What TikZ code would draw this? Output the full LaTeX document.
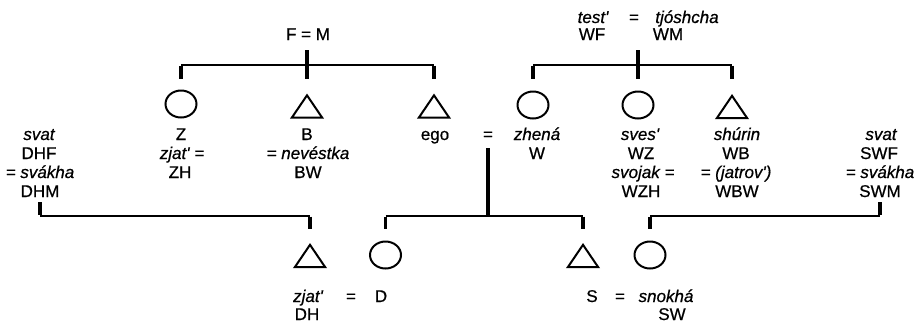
\documentclass[tikz,border=0pt]{standalone}
\usepackage{fontspec}
\setmainfont{Liberation Sans}[Ligatures=TeXOff, FakeBold=0.6]
\usetikzlibrary{shapes.geometric}
\begin{document}
\begin{tikzpicture}[x=1pt,y=-1pt,
  bus/.style={line width=1.4pt},
  tickln/.style={line width=3.2pt},
  fem/.style={ellipse, draw, line width=2pt, minimum width=31pt, minimum height=27pt, inner sep=0pt},
  mal/.style={rectangle, minimum width=30pt, minimum height=22pt, inner sep=0pt},
  triline/.style={line width=2pt},
  lab/.style={anchor=base, inner sep=0pt, font=\fontsize{17pt}{20pt}\selectfont},
  itl/.style={lab, font=\fontsize{17pt}{20pt}\selectfont\itshape}]
\useasboundingbox (0,0) rectangle (920,322);
\fill[white] (0,0) rectangle (920,322);

% people
\node[fem] (Z) at (181,104) {};
\node[mal] (B) at (307,106.5) {};
\node[mal] (ego) at (434,106.5) {};
\node[fem] (W) at (533,105) {};
\node[fem] (WZ) at (638,105) {};
\node[mal] (WB) at (732,107) {};
\node[mal] (DH) at (310,256) {};
\node[fem] (D) at (385.5,255) {};
\node[mal] (S) at (583,256) {};
\node[fem] (SW) at (650,255) {};
\foreach \t in {B,ego,WB,DH,S}
  \draw[triline] (\t.south west) -- (\t.north) -- (\t.south east) -- cycle;

% reference coordinates for connectors
\coordinate (FMtop) at (307,50);
\coordinate (busA) at (307,65);
\coordinate (WFMtop) at (638,50);
\coordinate (busB) at (638,65);
\coordinate (rowA) at (0,79);
\coordinate (egotop) at (488,148);
\coordinate (busC) at (488,216);
\coordinate (rowB) at (0,229);
\coordinate (DHMend) at (40,202);
\coordinate (SWMend) at (880,202);

% F = M family
\draw[bus] (Z |- busA) -- (ego |- busA);
\draw[tickln] (FMtop) -- (B |- rowA);
\draw[tickln] ([yshift=-0.7pt]Z |- busA) -- (Z |- rowA);
\draw[tickln] ([yshift=-0.7pt]ego |- busA) -- (ego |- rowA);

% WF = WM family
\draw[bus] (W |- busB) -- (WB |- busB);
\draw[tickln] (WFMtop) -- (WZ |- rowA);
\draw[tickln] ([yshift=-0.7pt]W |- busB) -- (W |- rowA);
\draw[tickln] ([yshift=-0.7pt]WB |- busB) -- (WB |- rowA);

% ego = W children
\draw[tickln] (egotop) -- (busC);
\draw[bus] (D |- busC) -- (S |- busC);
\draw[tickln] ([yshift=-0.7pt]D |- busC) -- (D |- rowB);
\draw[tickln] ([yshift=-0.7pt]S |- busC) -- (S |- rowB);

% DHF = DHM -> DH
\draw[tickln] (DHMend) -- ([yshift=0.7pt]DHMend |- busC);
\draw[bus] (DHMend |- busC) -- (DH |- busC);
\draw[tickln] ([yshift=-0.7pt]DH |- busC) -- (DH |- rowB);

% SWF = SWM -> SW
\draw[tickln] (SWMend) -- ([yshift=0.7pt]SWMend |- busC);
\draw[bus] (SW |- busC) -- (SWMend |- busC);
\draw[tickln] ([yshift=-0.7pt]SW |- busC) -- (SW |- rowB);

% top labels
\node[lab] (tFM) at (308,40) {F = M};
\node[itl] (tTest) at (593,23) {test'};
\node[lab] (tEq1) at (634,23) {=};
\node[itl] (tTjo) at (687,23) {tjóshcha};
\node[lab] (tWF) at (592,40) {WF};
\node[lab] (tWM) at (668,40) {WM};

% left column
\node[itl] (l1) at (39,140) {svat};
\node[lab] (l2) at (39,159) {DHF};
\node[itl] (l3) at (40,178) {= svákha};
\node[lab] (l4) at (40,197) {DHM};

% Z column
\node[lab] (z1) at (181,140) {Z};
\node[itl] (z2) at (182,159) {zjat' =};
\node[lab] (z3) at (180,178) {ZH};

% B column
\node[lab] (b1) at (307,140) {B};
\node[itl] (b2) at (308,159) {= nevéstka};
\node[lab] (b3) at (308,178) {BW};

% ego
\node[lab] (e1) at (435,140) {ego};
\node[lab] (e2) at (488,140) {=};

% W column
\node[itl] (w1) at (537,140) {zhená};
\node[lab] (w2) at (537,159) {W};

% WZ column
\node[itl] (wz1) at (640,140) {sves'};
\node[lab] (wz2) at (641,159) {WZ};
\node[itl] (wz3) at (643,178) {svojak =};
\node[lab] (wz4) at (641,197) {WZH};

% WB column
\node[itl] (wb1) at (737,140) {shúrin};
\node[lab] (wb2) at (736,159) {WB};
\node[itl] (wb3) at (736,178) {= (jatrov')};
\node[lab] (wb4) at (737,197) {WBW};

% right column
\node[itl] (r1) at (881,140) {svat};
\node[lab] (r2) at (879,159) {SWF};
\node[itl] (r3) at (880,178) {= svákha};
\node[lab] (r4) at (880,197) {SWM};

% bottom labels
\node[itl] (d1) at (308,302) {zjat'};
\node[lab] (d2) at (351,302) {=};
\node[lab] (d3) at (381,302) {D};
\node[lab] (d4) at (307,320) {DH};
\node[lab] (s1) at (592,302) {S};
\node[lab] (s2) at (620,302) {=};
\node[itl] (s3) at (666,302) {snokhá};
\node[lab] (s4) at (672,320) {SW};
\end{tikzpicture}
\end{document}
